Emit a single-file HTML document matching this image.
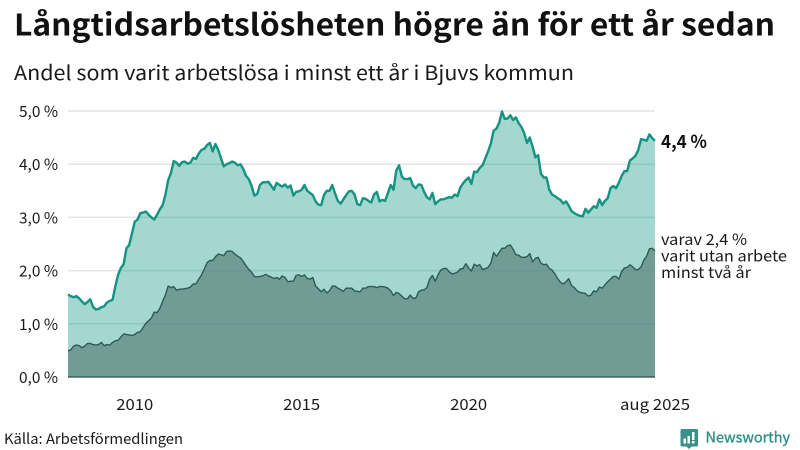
<!DOCTYPE html>
<html lang="sv">
<head>
<meta charset="utf-8">
<title>Långtidsarbetslösheten</title>
<style>
html,body{margin:0;padding:0;background:#fff;}
svg{display:block;font-family:"Liberation Sans","Noto Sans CJK JP",sans-serif;}
svg text{font-family:"Noto Sans CJK JP","DejaVu Sans",sans-serif;}
</style>
</head>
<body>
<svg id="chart" xmlns="http://www.w3.org/2000/svg" width="800" height="450" viewBox="0 0 800 450">
  <rect x="0" y="0" width="800" height="450" fill="#fff"/>
  <text x="14" y="35.500" font-size="30" font-weight="700" fill="#111" textLength="761" lengthAdjust="spacingAndGlyphs">Långtidsarbetslösheten högre än för ett år sedan</text>
  <text x="14" y="80" font-size="20" fill="#1a1a1a" textLength="560" lengthAdjust="spacingAndGlyphs">Andel som varit arbetslösa i minst ett år i Bjuvs kommun</text>
  <g id="grid"></g>
  <g id="marks"></g>
  <g id="yaxis"></g>
  <g id="xaxis"></g>
  <g id="labels"></g>
  <text x="4" y="444" font-size="14.500" fill="#1a1a1a" textLength="179" lengthAdjust="spacingAndGlyphs">Källa: Arbetsförmedlingen</text>
  <g>
    <path d="M682 429h14.500a1.500 1.500 0 0 1 1.500 1.500v14.500a1.500 1.500 0 0 1-1.500 1.500h-5l-2.500 2.500-2.500-2.500h-4.500a1.500 1.500 0 0 1-1.500-1.500v-14.500a1.500 1.500 0 0 1 1.500-1.500z" fill="#3a8f88"/>
    <rect x="683.500" y="438.500" width="2.500" height="5" fill="#fff"/>
    <rect x="687.500" y="436" width="2.500" height="7.500" fill="#fff"/>
    <rect x="692" y="432" width="2.500" height="8" fill="#fff"/>
    <rect x="692" y="441" width="2.500" height="2.500" fill="#fff"/>
    <text x="705.500" y="442.500" font-size="15" fill="#2f8f85" stroke="#2f8f85" stroke-width="0.350" textLength="84.500" lengthAdjust="spacingAndGlyphs">Newsworthy</text>
  </g>
</svg>
<script>
const startYear = 2008;
const totalShare = [
1.55,1.52,1.50,1.52,1.48,1.42,1.37,1.41,1.46,1.32,1.27,1.28,1.31,1.33,1.40,1.43,1.45,1.70,1.92,2.05,2.12,2.42,2.48,2.70,
2.92,2.96,3.08,3.09,3.11,3.05,3.00,2.96,3.05,3.15,3.23,3.42,3.70,3.83,4.06,4.03,3.97,4.04,4.05,4.01,4.03,4.12,4.10,4.20,
4.27,4.29,4.36,4.40,4.24,4.38,4.27,4.11,3.96,4.00,4.02,4.05,4.03,3.98,4.00,3.91,3.78,3.72,3.59,3.41,3.44,3.61,3.66,3.66,
3.67,3.60,3.52,3.65,3.61,3.58,3.62,3.56,3.60,3.41,3.48,3.49,3.52,3.61,3.50,3.46,3.42,3.30,3.24,3.23,3.42,3.50,3.50,3.61,
3.45,3.31,3.26,3.34,3.42,3.49,3.50,3.43,3.25,3.23,3.36,3.35,3.31,3.28,3.43,3.48,3.30,3.33,3.31,3.46,3.61,3.52,3.88,3.98,
3.77,3.72,3.72,3.74,3.60,3.55,3.62,3.61,3.48,3.38,3.34,3.46,3.25,3.30,3.34,3.34,3.36,3.38,3.37,3.43,3.40,3.56,3.64,3.70,
3.75,3.63,3.86,3.85,3.93,3.98,4.11,4.24,4.39,4.63,4.67,4.78,4.99,4.85,4.86,4.92,4.83,4.88,4.77,4.70,4.58,4.40,4.50,4.33,
4.13,4.17,3.82,3.75,3.75,3.52,3.43,3.40,3.36,3.33,3.26,3.30,3.22,3.12,3.08,3.05,3.03,3.02,3.16,3.09,3.15,3.21,3.18,3.34,
3.23,3.31,3.36,3.55,3.59,3.55,3.65,3.78,3.87,3.87,4.07,4.11,4.16,4.27,4.47,4.46,4.44,4.56,4.49,4.44
];
const twoYearShare = [
0.49,0.51,0.58,0.60,0.59,0.55,0.58,0.63,0.63,0.61,0.60,0.61,0.65,0.59,0.61,0.60,0.65,0.68,0.69,0.75,0.81,0.80,0.79,0.78,
0.80,0.84,0.85,0.93,1.01,1.06,1.11,1.22,1.21,1.29,1.42,1.54,1.71,1.68,1.70,1.63,1.65,1.65,1.66,1.67,1.69,1.75,1.75,1.84,
1.92,2.03,2.15,2.19,2.19,2.26,2.31,2.30,2.28,2.36,2.37,2.36,2.31,2.27,2.24,2.17,2.09,2.02,1.97,1.89,1.88,1.89,1.90,1.93,
1.90,1.88,1.85,1.87,1.84,1.90,1.87,1.79,1.80,1.80,1.91,1.92,1.89,1.92,1.85,1.84,1.87,1.71,1.66,1.60,1.65,1.58,1.62,1.71,
1.71,1.67,1.64,1.61,1.67,1.67,1.67,1.62,1.61,1.60,1.67,1.67,1.70,1.70,1.70,1.68,1.70,1.70,1.69,1.67,1.62,1.53,1.59,1.57,
1.52,1.47,1.47,1.54,1.48,1.48,1.60,1.63,1.64,1.68,1.84,1.91,1.80,1.92,2.01,2.04,2.04,1.98,1.94,1.95,1.97,2.03,2.04,2.13,
2.05,1.99,2.12,2.09,2.11,2.02,2.04,2.06,2.14,2.34,2.27,2.34,2.42,2.42,2.47,2.48,2.40,2.30,2.29,2.25,2.25,2.26,2.32,2.16,
2.23,2.25,2.14,2.11,2.12,2.04,2.01,1.94,1.85,1.78,1.75,1.79,1.85,1.72,1.68,1.62,1.59,1.58,1.57,1.52,1.54,1.62,1.60,1.69,
1.67,1.73,1.79,1.84,1.89,1.89,1.84,1.98,2.05,2.06,2.11,2.07,2.02,2.02,2.07,2.20,2.27,2.41,2.42,2.37
];
const yTicks = [0, 1, 2, 3, 4, 5];
const xTickDates = ['2010-01', '2015-01', '2020-01', '2025-08'];
const xTickLabels = ['2010', '2015', '2020', 'aug 2025'];

const SVG_NS = 'http://www.w3.org/2000/svg';
const plot = { left: 68, right: 655, top: 111, bottom: 377 };
const yMax = 5;
function xScale(i) { return plot.left + (plot.right - plot.left) * i / (totalShare.length - 1); }
function yScale(v) { return plot.bottom - (plot.bottom - plot.top) * v / yMax; }
function dateIndex(d) { const p = d.split('-'); return (Number(p[0]) - startYear) * 12 + Number(p[1]) - 1; }
function fmt(v) { return v.toFixed(1).replace('.', ',') + ' %'; }
function make(tag, attrs, parent, text) {
  const el = document.createElementNS(SVG_NS, tag);
  for (const k in attrs) el.setAttribute(k, attrs[k]);
  if (text !== undefined) el.textContent = text;
  parent.appendChild(el);
  return el;
}
function linePath(vals) { return vals.map((v, i) => (i ? 'L' : 'M') + xScale(i).toFixed(2) + ' ' + yScale(v).toFixed(2)).join(''); }
function areaPath(vals) { return linePath(vals) + 'L' + xScale(vals.length - 1).toFixed(2) + ' ' + yScale(0) + 'L' + xScale(0).toFixed(2) + ' ' + yScale(0) + 'Z'; }

const gridG = document.getElementById('grid');
const yG = document.getElementById('yaxis');
const xG = document.getElementById('xaxis');
const marks = document.getElementById('marks');
const labels = document.getElementById('labels');

yTicks.forEach(function (t) {
  if (t > 0) {
    const g = make('line', { x1: plot.left, x2: plot.right, y1: yScale(t), y2: yScale(t), stroke: '#e3e3e8', 'stroke-width': 1.5 }, gridG);
    
    
  }
  const lab = make('text', { x: 58, y: yScale(t) + 6, 'text-anchor': 'end', 'font-size': 15.5, fill: '#1a1a1a', textLength: 39, lengthAdjust: 'spacingAndGlyphs' }, yG, fmt(t));
  
  
});

const areaTotal = make('path', { d: areaPath(totalShare), fill: '#1a9a88', 'fill-opacity': 0.4 }, marks);


const areaTwo = make('path', { d: areaPath(twoYearShare), fill: '#507470', 'fill-opacity': 0.6 }, marks);


const lineTotal = make('path', { d: linePath(totalShare), fill: 'none', stroke: '#149382', 'stroke-width': 2.4, 'stroke-linejoin': 'round' }, marks);


const lineTwo = make('path', { d: linePath(twoYearShare), fill: 'none', stroke: '#2f5a56', 'stroke-width': 1.4, 'stroke-linejoin': 'round' }, marks);



const axisLine = make('line', { x1: plot.left, x2: plot.right, y1: plot.bottom, y2: plot.bottom, stroke: '#2f4f4c', 'stroke-width': 1.2 }, xG);



xTickLabels.forEach(function (l, n) {
  const t = make('text', { x: xScale(dateIndex(xTickDates[n])), y: 410, 'text-anchor': 'middle', 'font-size': 15.5, fill: '#1a1a1a', textLength: l.length > 4 ? 70 : 37, lengthAdjust: 'spacingAndGlyphs' }, xG, l);
  
  
});

const lastTotal = totalShare[totalShare.length - 1];
const lastTwo = twoYearShare[twoYearShare.length - 1];
const endTotal = make('text', { x: 661, y: yScale(lastTotal) + 7, 'font-size': 18, 'font-weight': 700, fill: '#111', textLength: 46, lengthAdjust: 'spacingAndGlyphs' }, labels, fmt(lastTotal));


const note1 = make('text', { x: 661, y: yScale(lastTwo) - 6, 'font-size': 15.5, fill: '#1a1a1a', textLength: 86, lengthAdjust: 'spacingAndGlyphs' }, labels, 'varav ' + fmt(lastTwo));


const note2 = make('text', { x: 661, y: yScale(lastTwo) + 10.5, 'font-size': 15.5, fill: '#1a1a1a', textLength: 126, lengthAdjust: 'spacingAndGlyphs' }, labels, 'varit utan arbete');


const note3 = make('text', { x: 661, y: yScale(lastTwo) + 27, 'font-size': 15.5, fill: '#1a1a1a', textLength: 90, lengthAdjust: 'spacingAndGlyphs' }, labels, 'minst två år');


</script>
</body>
</html>
